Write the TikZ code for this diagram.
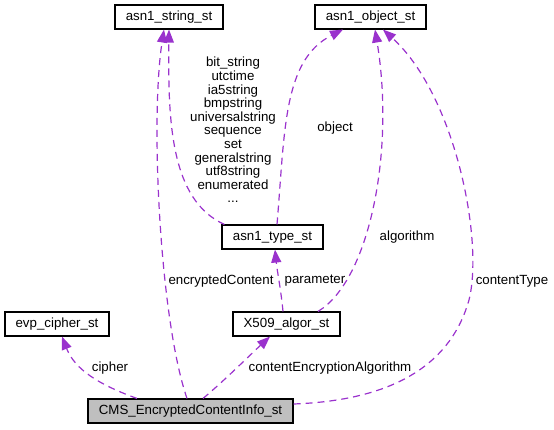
\documentclass[tikz,border=0pt]{standalone}
\usepackage{fontspec}
\setmainfont{Liberation Sans}
\usetikzlibrary{arrows.meta}
\definecolor{edgec}{HTML}{9A32CD}
\definecolor{grayfill}{HTML}{BFBFBF}
\begin{document}
\begin{tikzpicture}[x=1pt,y=-1pt,
  box/.style={draw=black, line width=1.1pt, inner sep=0pt, minimum height=24pt, font=\fontsize{13.3}{13.6}\selectfont},
  rel/.style={draw=edgec, line width=1.2pt, dash pattern=on 7pt off 5pt, -{Triangle[length=13pt,width=10pt]}},
  lbl/.style={font=\fontsize{13.3}{13.6}\selectfont, inner sep=0pt}]
\useasboundingbox (0,0) rectangle (554,429);

\node[box, minimum width=108pt] (str) at (169,17) {asn1\_string\_st};
\node[box, minimum width=111pt] (obj) at (370.5,17) {asn1\_object\_st};
\node[box, minimum width=101pt] (type) at (272.5,237) {asn1\_type\_st};
\node[box, minimum width=104pt] (evp) at (57,324) {evp\_cipher\_st};
\node[box, minimum width=107pt] (x509) at (286.5,324) {X509\_algor\_st};
\node[box, minimum width=205pt, fill=grayfill] (cms) at (190.5,411) {CMS\_EncryptedContentInfo\_st};

% encryptedContent
\draw[rel] ([xshift=-3.5pt]cms.north) .. controls (160,320) and (150,120) .. ([xshift=-5pt]str.south);
\node[lbl] (lenc) at (221,281) {encryptedContent};

% type -> string
\draw[rel] ([xshift=3pt]type.north west) .. controls (170,200) and (168,120) .. (str.south);
\node[lbl, align=center] (lmulti) at (233,130) {bit\_string\\utctime\\ia5string\\bmpstring\\universalstring\\sequence\\set\\generalstring\\utf8string\\enumerated\\...};

% object
\draw[rel] ([xshift=4.5pt]type.north) .. controls (285,130) and (283,60) .. ([xshift=-27.5pt]obj.south);
\node[lbl] (lobj) at (335,128) {object};

% parameter
\draw[rel] ([xshift=-3.5pt]x509.north) .. controls (281,290) and (277,270) .. ([xshift=2.5pt]type.south);
\node[lbl] (lpar) at (315,281) {parameter};

% algorithm
\draw[rel] ([xshift=31.5pt]x509.north) .. controls (370,280) and (395,150) .. ([xshift=4.5pt]obj.south);
\node[lbl] (lalg) at (407,237) {algorithm};

% contentType
\draw[rel] ([yshift=7pt]cms.east) .. controls (400,400) and (452,360) .. (469,300)
  .. controls (484,240) and (455,95) .. ([xshift=12.5pt]obj.south);
\node[lbl] (lct) at (512,281) {contentType};

% cipher
\draw[rel] ([xshift=-53.5pt]cms.north) .. controls (100,385) and (75,370) .. ([xshift=5pt]evp.south);
\node[lbl] (lcip) at (110,368) {cipher};

% contentEncryptionAlgorithm
\draw[rel] ([xshift=12.5pt]cms.north) .. controls (225,380) and (250,355) .. ([xshift=-16.5pt]x509.south);
\node[lbl] (lcea) at (330,368) {contentEncryptionAlgorithm};
\end{tikzpicture}
\end{document}
